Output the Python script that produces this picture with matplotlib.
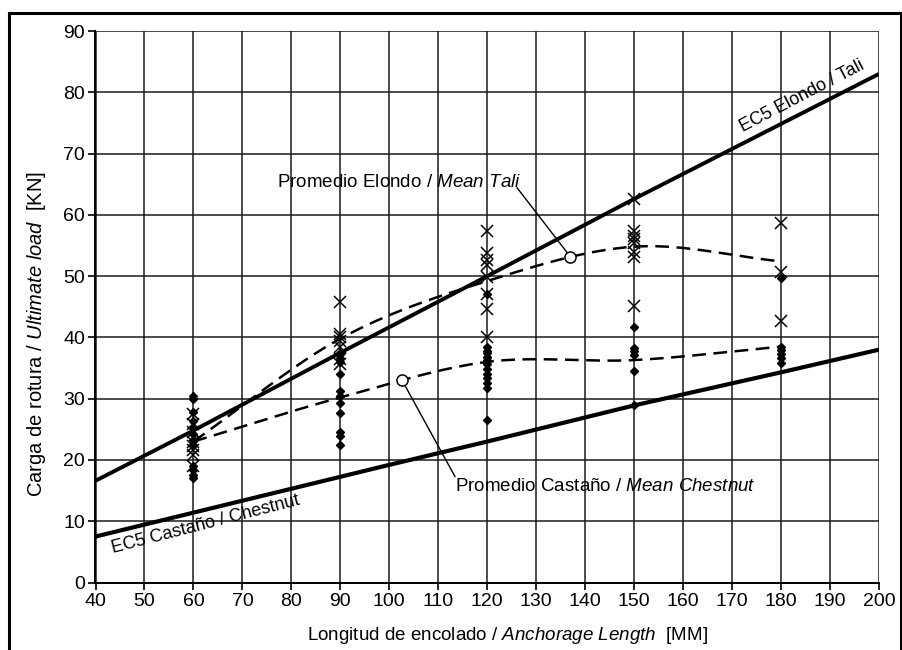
import numpy as np
import matplotlib
matplotlib.use('Agg')
import matplotlib.pyplot as plt
from matplotlib.lines import Line2D

plt.rcParams['font.family'] = ['Liberation Sans', 'DejaVu Sans']
plt.rcParams['mathtext.fontset'] = 'custom'
plt.rcParams['mathtext.rm'] = 'Liberation Sans'
plt.rcParams['mathtext.it'] = 'Liberation Sans:italic'

# anchorage lengths tested (mm)
lengths = [60, 90, 120, 150, 180]

# individual failure loads (kN)
tali_pts = {
    60: [27.5, 25.8, 24.6, 23.0, 22.2, 21.6, 20.8, 19.0],
    90: [45.7, 40.6, 40.0, 39.4, 38.5, 36.4, 35.6],
    120: [57.4, 53.7, 52.6, 51.8, 49.9, 47.0, 44.7, 40.1],
    150: [62.6, 57.3, 56.6, 56.0, 55.4, 54.0, 53.1, 45.1],
    180: [58.6, 50.7, 42.6],
}
chestnut_pts = {
    60: [30.5, 30.0, 27.8, 26.4, 25.3, 24.2, 23.2, 22.4, 19.0, 18.3, 17.5, 17.0],
    90: [37.4, 36.7, 36.0, 34.1, 31.3, 30.5, 29.3, 27.7, 24.6, 23.9, 22.4],
    120: [47.1, 38.5, 37.8, 37.4, 36.8, 36.3, 35.6, 34.9, 34.1, 33.3, 32.5, 31.7, 26.5],
    150: [41.7, 38.3, 37.8, 37.2, 34.5, 28.9],
    180: [49.7, 38.5, 38.0, 37.3, 36.6, 35.9],
}

# mean curves
tali_mean = [23.0, 39.8, 49.2, 54.8, 52.4]
chestnut_mean = [23.0, 30.2, 36.0, 36.3, 38.5]

# EC5 design lines
ec5_x = [40, 60, 90, 120, 150, 200]
ec5_tali = [16.6, 24.8, 37.5, 50.0, 62.6, 83.0]
ec5_x2 = [40, 60, 80, 100, 120, 150, 180, 200]
ec5_chestnut = [7.5, 11.4, 15.3, 19.2, 23.0, 28.9, 34.3, 38.0]

xticks = list(range(40, 201, 10))
yticks = list(range(0, 91, 10))


def smooth(xs, ys, xq):
    # cubic hermite (catmull-rom style) like a smoothed spreadsheet line
    xs = np.asarray(xs, float)
    ys = np.asarray(ys, float)
    n = len(xs)
    m = np.zeros(n)
    m[0] = (ys[1] - ys[0]) / (xs[1] - xs[0])
    m[-1] = (ys[-1] - ys[-2]) / (xs[-1] - xs[-2])
    for i in range(1, n - 1):
        m[i] = (ys[i+1] - ys[i-1]) / (xs[i+1] - xs[i-1])
    xq = np.atleast_1d(np.asarray(xq, float))
    out = np.zeros_like(xq)
    for k, x in enumerate(xq):
        i = min(max(np.searchsorted(xs, x) - 1, 0), n - 2)
        h = xs[i+1] - xs[i]
        t = (x - xs[i]) / h
        out[k] = ((2*t**3 - 3*t**2 + 1) * ys[i] + (t**3 - 2*t**2 + t) * h * m[i]
                  + (-2*t**3 + 3*t**2) * ys[i+1] + (t**3 - t**2) * h * m[i+1])
    return out


W, H = 903, 650
fig = plt.figure(figsize=(W/100, H/100), dpi=100)
ax = fig.add_axes([95.5/W, 1 - 582.5/H, (879 - 95.5)/W, (582.5 - 31)/H])

ax.set_xlim(40, 200)
ax.set_ylim(0, 90)
ax.set_xticks(xticks)
ax.set_yticks(yticks)
ax.grid(True, color='#1a1a1a', lw=1.1)
ax.set_axisbelow(True)
for s in ['top', 'right']:
    ax.spines[s].set_visible(False)
for s in ['left', 'bottom']:
    ax.spines[s].set_linewidth(1.4)
ax.tick_params(direction='out', length=5, width=1.2, labelsize=14, pad=2.5)

# EC5 lines
ax.plot(ec5_x, ec5_tali, color='black', lw=2.8, solid_capstyle='butt')
ax.plot(ec5_x2, ec5_chestnut, color='black', lw=3.0, solid_capstyle='butt')

# mean curves
xx = np.linspace(60, 180, 200)
ax.plot(xx, smooth(lengths, tali_mean, xx), color='black', lw=1.8, ls=(0, (5.5, 3)))
ax.plot(xx, smooth(lengths, chestnut_mean, xx), color='black', lw=1.8, ls=(0, (5.5, 3)))

# test points
for L in lengths:
    ax.plot([L]*len(chestnut_pts[L]), chestnut_pts[L], ls='none', marker='D',
            ms=4.5, color='black', zorder=4)
    ax.plot([L]*len(tali_pts[L]), tali_pts[L], ls='none', marker='x',
            ms=9, mew=1.1, color='black', zorder=5)

# labels on EC5 lines
ax.text(184.3, 79.3, 'EC5 Elondo / Tali', rotation=27.5, ha='center', va='center',
        fontsize=13, rotation_mode='anchor')
ax.text(62.4, 9.5, 'EC5 Castaño / Chestnut', rotation=14.5, ha='center', va='center',
        fontsize=13, rotation_mode='anchor')

# mean annotations
xt = 137.0
yt = smooth(lengths, tali_mean, xt)[0]
ax.plot([126.1, xt], [64.4, yt], color='black', lw=1.0, zorder=6)
ax.plot(xt, yt, marker='o', ms=8, mfc='white', mec='black', mew=1.1, zorder=7)
ax.text(77.1, 65.2, r'Promedio Elondo / $\it{Mean\ Tali}$', ha='left', va='center',
        fontsize=13.5)

xc = 102.6
yc = smooth(lengths, chestnut_mean, xc)[0]
ax.plot([113.4, xc], [17.3, yc], color='black', lw=1.0, zorder=6)
ax.plot(xc, yc, marker='o', ms=8, mfc='white', mec='black', mew=1.1, zorder=7)
ax.text(113.5, 15.6, r'Promedio Castaño / $\it{Mean\ Chestnut}$', ha='left', va='center',
        fontsize=13.5)

# axis titles
fig.text(507/W, 1 - 636/H, r'Longitud de encolado / $\it{Anchorage\ Length}$  [MM]',
         ha='center', va='center', fontsize=13.5)
fig.text(37/W, 1 - 334/H, r'Carga de rotura / $\it{Ultimate\ load}$  [KN]',
         ha='center', va='center', fontsize=14.5, rotation=90)

# outer frame
fig.add_artist(Line2D([9/W, 9/W], [0, 1 - 13/H], transform=fig.transFigure, color='black', lw=2.2))
fig.add_artist(Line2D([9/W, 901/W], [1 - 13/H, 1 - 13/H], transform=fig.transFigure, color='black', lw=2.2))
fig.add_artist(Line2D([901/W, 901/W], [0, 1 - 13/H], transform=fig.transFigure, color='black', lw=2.2))

fig.savefig('out.png', dpi=100)
